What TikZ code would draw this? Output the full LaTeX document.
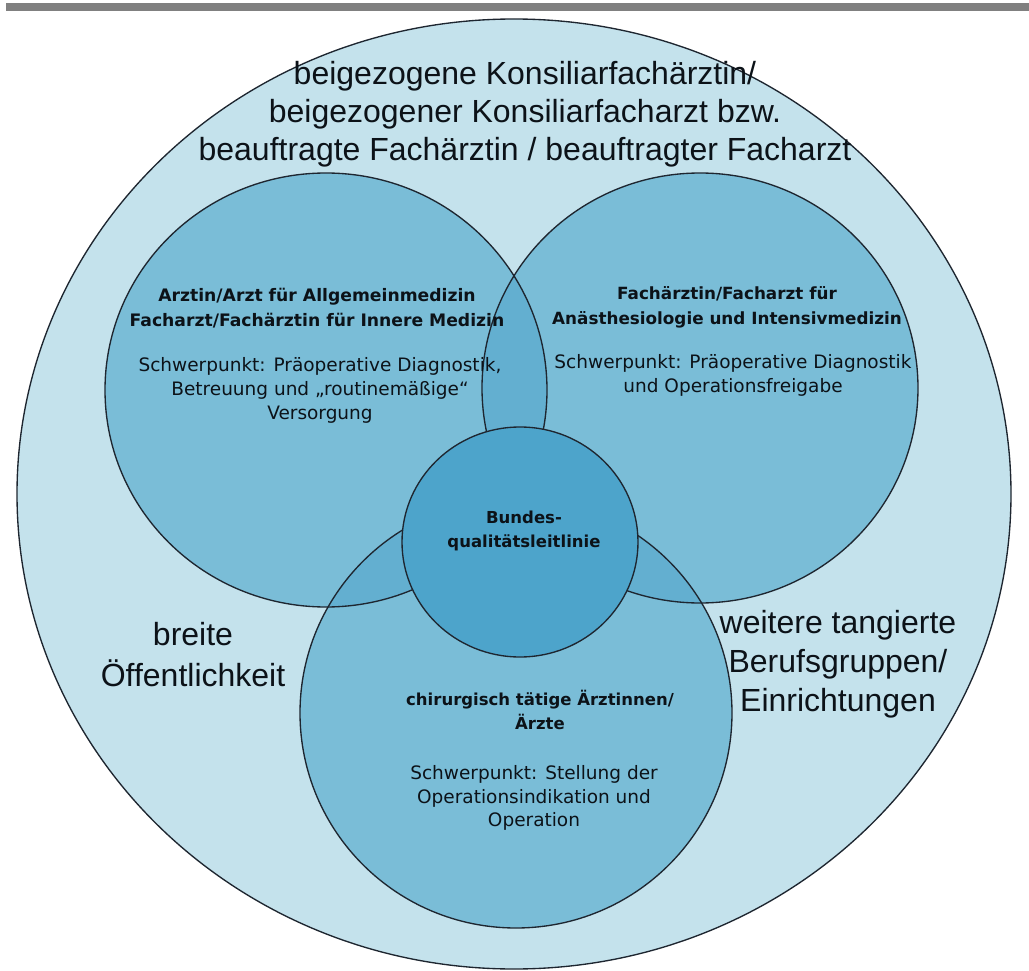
\documentclass[tikz,border=0pt]{standalone}
\usepackage{fontspec}
\setmainfont{Liberation Sans}
\newfontfamily\dvs{DejaVu Sans}
\definecolor{outerfill}{RGB}{196,226,236}
\definecolor{circfill}{RGB}{122,189,215}
\definecolor{lensfill}{RGB}{99,175,208}
\definecolor{centfill}{RGB}{77,164,203}
\definecolor{edge}{RGB}{30,38,48}
\definecolor{txt}{RGB}{12,18,24}
\definecolor{bar}{RGB}{128,128,128}
\tikzset{
  rO/.style={x radius=497, y radius=475},
  rL/.style={x radius=221, y radius=217},
  rR/.style={x radius=218, y radius=215},
  rB/.style={x radius=216, y radius=215},
  rC/.style={x radius=118, y radius=115},
  rim/.style={draw=edge, line width=1.35pt},
  bigtext/.style={align=center, text=txt, inner sep=0pt, font=\fontsize{32}{38}\selectfont},
  headtext/.style={align=center, text=txt, inner sep=0pt, font=\dvs\bfseries\fontsize{17.2}{25}\selectfont},
  bodytext/.style={align=center, text=txt, inner sep=0pt, font=\dvs\fontsize{18.5}{24}\selectfont}
}
\begin{document}
\begin{tikzpicture}[x=1pt,y=-1pt]
\useasboundingbox (0,0) rectangle (1029,971);
\fill[bar] (6,3) rectangle (1029,11);
\coordinate (cO) at (514,494);
\coordinate (cL) at (326,390);
\coordinate (cR) at (700,388);
\coordinate (cB) at (516,713);
\coordinate (cC) at (520,542);
% outer
\path[fill=outerfill, rim] (cO) ellipse [rO];
% three circles
\fill[circfill] (cL) ellipse [rL];
\fill[circfill] (cR) ellipse [rR];
\fill[circfill] (cB) ellipse [rB];
% lenses
\begin{scope}
  \clip (cL) ellipse [rL];
  \fill[lensfill] (cR) ellipse [rR];
  \fill[lensfill] (cB) ellipse [rB];
\end{scope}
\begin{scope}
  \clip (cR) ellipse [rR];
  \fill[lensfill] (cB) ellipse [rB];
\end{scope}
% outlines
\draw[rim] (cL) ellipse [rL];
\draw[rim] (cR) ellipse [rR];
\draw[rim] (cB) ellipse [rB];
% centre
\path[fill=centfill, rim] (cC) ellipse [rC];
% texts
\node[bigtext] (tTop) at (525,114) {beigezogene Konsiliarfachärztin/\\beigezogener Konsiliarfacharzt bzw.\\beauftragte Fachärztin / beauftragter Facharzt};
\node[bigtext, font=\fontsize{32}{41}\selectfont] (tLeft) at (193,655) {breite\\Öffentlichkeit};
\node[bigtext, font=\fontsize{32}{39}\selectfont] (tRight) at (838,664) {weitere tangierte\\Berufsgruppen/\\Einrichtungen};
\node[headtext] (hL) at (317,308) {Arztin/Arzt für Allgemeinmedizin\\Facharzt/Fachärztin für Innere Medizin};
\node[bodytext] (bL) at (320,390) {Schwerpunkt: Präoperative Diagnostik,\\Betreuung und „routinemäßige“\\Versorgung};
\node[headtext, font=\dvs\bfseries\fontsize{16.8}{25}\selectfont] (hR) at (727,307) {Fachärztin/Facharzt für\\Anästhesiologie und Intensivmedizin};
\node[bodytext] (bR) at (733,375) {Schwerpunkt: Präoperative Diagnostik\\und Operationsfreigabe};
\node[headtext, font=\dvs\bfseries\fontsize{16.5}{24}\selectfont] (hC) at (524,531) {Bundes-\\qualitätsleitlinie};
\node[headtext, font=\dvs\bfseries\fontsize{16.5}{24}\selectfont] (hB) at (540,710) {chirurgisch tätige Ärztinnen/\\Ärzte};
\node[bodytext, font=\dvs\fontsize{18.5}{23.5}\selectfont] (bB) at (534,798) {Schwerpunkt: Stellung der\\Operationsindikation und\\Operation};
\end{tikzpicture}
\end{document}
